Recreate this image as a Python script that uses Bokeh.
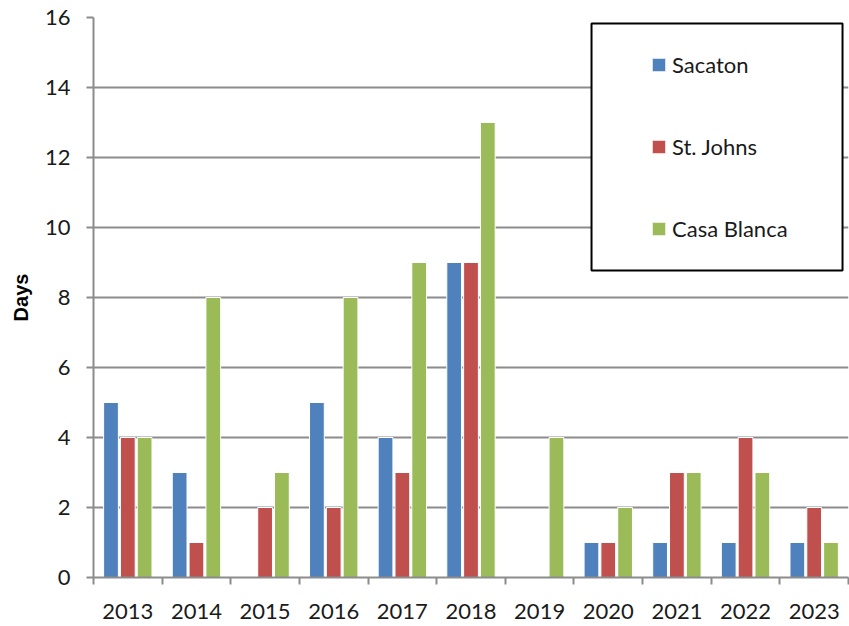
from bokeh.plotting import figure
from bokeh.models import (Range1d, FixedTicker, Legend, LegendItem, BoxAnnotation)
from bokeh.embed import file_html
from bokeh.resources import INLINE

years = ["2013", "2014", "2015", "2016", "2017", "2018", "2019", "2020", "2021", "2022", "2023"]
sacaton = [5, 3, 0, 5, 4, 9, 0, 1, 1, 1, 1]
st_johns = [4, 1, 2, 2, 3, 9, 0, 1, 3, 4, 2]
casa_blanca = [4, 8, 3, 8, 9, 13, 4, 2, 3, 3, 1]
series_names = ["Sacaton", "St. Johns", "Casa Blanca"]
series_colors = ["#4F81BD", "#C0504D", "#9BBB59"]
y_ticks = [0, 2, 4, 6, 8, 10, 12, 14, 16]

FONT = "Lato"
GRAY = "#8C8C8C"

n = len(years)
p = figure(width=849, height=626, output_backend="svg", toolbar_location=None,
           x_range=Range1d(-0.5, n - 0.5), y_range=Range1d(0, 16),
           min_border_left=93, min_border_right=1, min_border_top=17, min_border_bottom=49)
p.outline_line_color = None
p.background_fill_color = "white"
p.border_fill_color = "white"

centers = list(range(n))
offsets = [-0.245, 0.0, 0.245]
renderers = []
for vals, off, col in zip([sacaton, st_johns, casa_blanca], offsets, series_colors):
    r = p.vbar(x=[c + off for c in centers], top=vals, bottom=0, width=0.215,
               fill_color=col, line_color="white", line_width=1)
    renderers.append(r)

# axes
p.xgrid.grid_line_color = None
p.ygrid.grid_line_color = GRAY
p.ygrid.grid_line_width = 2
p.ygrid.ticker = FixedTicker(ticks=y_ticks)

xa = p.xaxis[0]
xa.ticker = FixedTicker(ticks=centers, minor_ticks=[c - 0.5 for c in centers] + [n - 0.5])
xa.major_label_overrides = {c: y for c, y in zip(centers, years)}
xa.major_tick_line_color = None
xa.major_tick_out = 0
xa.major_tick_in = 0
xa.minor_tick_line_color = GRAY
xa.minor_tick_line_width = 2
xa.minor_tick_out = 7
xa.minor_tick_in = 0
xa.axis_line_color = GRAY
xa.axis_line_width = 2
xa.major_label_text_font = FONT
xa.major_label_text_font_size = "22px"
xa.major_label_text_color = "#1a1a1a"
xa.major_label_standoff = 19

ya = p.yaxis[0]
ya.ticker = FixedTicker(ticks=y_ticks)
ya.major_tick_line_color = GRAY
ya.major_tick_line_width = 2
ya.major_tick_out = 7
ya.major_tick_in = 0
ya.minor_tick_line_color = None
ya.axis_line_color = GRAY
ya.axis_line_width = 2
ya.major_label_text_font = FONT
ya.major_label_text_font_size = "22px"
ya.major_label_text_color = "#1a1a1a"
ya.major_label_standoff = 16
ya.axis_label = "Days"
ya.axis_label_text_font = "Liberation Sans"
ya.axis_label_text_font_style = "bold"
ya.axis_label_text_font_size = "20px"
ya.axis_label_text_color = "#000000"
ya.axis_label_standoff = 10

# legend frame
box = BoxAnnotation(left=7.256 - 0.5, right=10.913 - 0.5, bottom=8.77, top=15.83,
                    fill_color="white", fill_alpha=1.0, line_color="black", line_width=2,
                    line_alpha=1.0)
p.add_layout(box)

legend = Legend(items=[LegendItem(label=nm, renderers=[r]) for nm, r in zip(series_names, renderers)],
                location=(557, 335), padding=0, spacing=55, label_height=24,
                glyph_height=17, glyph_width=17, label_standoff=5,
                border_line_color=None, background_fill_alpha=0,
                label_text_font=FONT, label_text_font_size="22px", label_text_color="#1a1a1a",
                margin=0)
p.add_layout(legend, "center")

open("out.html", "w").write(file_html(p, INLINE))
